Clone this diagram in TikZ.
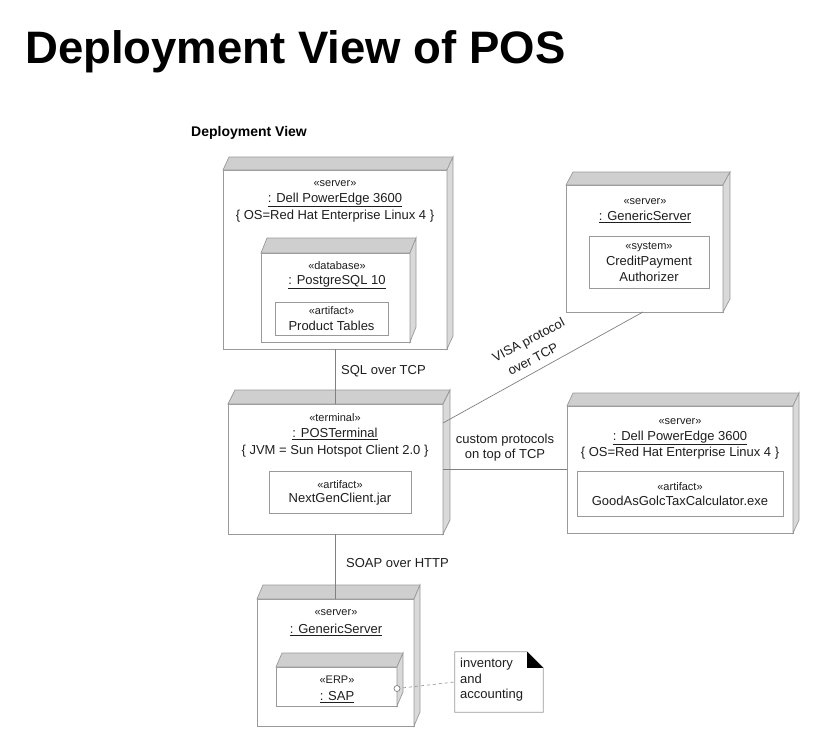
\documentclass[tikz,border=0pt]{standalone}
\usepackage{fontspec}
\setmainfont{Liberation Sans}
\usetikzlibrary{calc}
\definecolor{edge}{HTML}{9A9A9A}
\definecolor{topgray}{HTML}{CFCFCF}
\definecolor{sidegray}{HTML}{D9D9D9}
\definecolor{ink}{HTML}{1E1E1E}
\definecolor{wirec}{HTML}{808080}
\newcommand\boxdepth[3]{%
  \filldraw[topgray, draw=edge, line width=0.7] (#1.north west) -- ($(#1.north west)+(#2,#3)$) -- ($(#1.north east)+(#2,#3)$) -- (#1.north east) -- cycle;
  \filldraw[sidegray, draw=edge, line width=0.7] (#1.north east) -- ($(#1.north east)+(#2,#3)$) -- ($(#1.south east)+(#2,#3)$) -- (#1.south east) -- cycle;}
\begin{document}
\begin{tikzpicture}[x=1pt, y=-1pt, font=\fontsize{13}{15}\selectfont, text=ink,
  face/.style={draw=edge, fill=white, line width=0.7, inner sep=0, outer sep=0},
  art/.style={draw=edge, fill=white, line width=0.7, inner sep=0, outer sep=0},
  st/.style={font=\fontsize{11}{13}\selectfont, inner sep=0},
  lbl/.style={inner sep=0},
  wire/.style={draw=wirec, line width=0.7}]
\useasboundingbox (0,0) rectangle (831,737);
\fill[white] (0,0) rectangle (831,737);

% titles
\node[anchor=base west, inner sep=0, font=\bfseries\fontsize{45.5}{50}\selectfont, text=black] (title) at (25,63) {Deployment View of POS};
\node[anchor=west, inner sep=0, font=\bfseries\fontsize{14}{16}\selectfont, text=black] (sub) at (191,133) {Deployment View};

% Dell server 1
\node[face, minimum width=224, minimum height=179] (dell1) at (335,259.5) {};
\boxdepth{dell1}{6}{-13}
\node[st] (d1a) at (335,184) {«server»};
\node[lbl] (d1b) at (335,200) {\underline{: Dell PowerEdge 3600}};
\node[lbl] (d1c) at (335,216) {\{ OS=Red Hat Enterprise Linux 4 \}};
\node[face, minimum width=149, minimum height=89] (db) at (335.5,297.5) {};
\boxdepth{db}{6}{-15}
\node[st] (dba) at (337,266) {«database»};
\node[lbl] (dbb) at (337,282) {\underline{: PostgreSQL 10}};
\node[art, minimum width=113, minimum height=33] (pt) at (331.5,318.5) {};
\node[st] (pta) at (331.5,311) {«artifact»};
\node[lbl] (ptb) at (331.5,326) {Product Tables};

% Generic server (credit)
\node[face, minimum width=157, minimum height=127] (gs1) at (644.5,248.5) {};
\boxdepth{gs1}{7}{-13}
\node[st] (g1a) at (645,202) {«server»};
\node[lbl] (g1b) at (645,217) {\underline{: GenericServer}};
\node[art, minimum width=120, minimum height=52] (sys) at (649,262) {};
\node[st] (sya) at (649,247) {«system»};
\node[lbl] (syb) at (649,262) {CreditPayment};
\node[lbl] (syc) at (649,277) {Authorizer};

% Terminal
\node[face, minimum width=215, minimum height=130] (term) at (335.5,469) {};
\boxdepth{term}{7}{-14}
\node[st] (ta) at (335,418) {«terminal»};
\node[lbl] (tb) at (335,434) {\underline{: POSTerminal}};
\node[lbl] (tc) at (335,451) {\{ JVM = Sun Hotspot Client 2.0 \}};
\node[art, minimum width=142, minimum height=42] (ngc) at (340,492) {};
\node[st] (nga) at (340,485) {«artifact»};
\node[lbl] (ngb) at (340,499) {NextGenClient.jar};

% Dell server 2
\node[face, minimum width=226, minimum height=127] (dell2) at (680,469.5) {};
\boxdepth{dell2}{6}{-13}
\node[st] (d2a) at (680,422) {«server»};
\node[lbl] (d2b) at (680,438) {\underline{: Dell PowerEdge 3600}};
\node[lbl] (d2c) at (680,453) {\{ OS=Red Hat Enterprise Linux 4 \}};
\node[art, minimum width=206, minimum height=45] (tax) at (680,493.5) {};
\node[st] (txa) at (680,487) {«artifact»};
\node[lbl] (txb) at (680,501) {GoodAsGolcTaxCalculator.exe};

% Bottom generic server
\node[face, minimum width=157, minimum height=127] (gs2) at (335.5,662.5) {};
\boxdepth{gs2}{6}{-14}
\node[st] (g2a) at (336,613) {«server»};
\node[lbl] (g2b) at (336,630) {\underline{: GenericServer}};
\node[face, minimum width=121, minimum height=39] (sap) at (336.5,686.5) {};
\boxdepth{sap}{6}{-14}
\node[st] (spa) at (337,680) {«ERP»};
\node[lbl] (spb) at (337,697) {\underline{: SAP}};

% note
\node[inner sep=0, minimum width=88, minimum height=60] (note) at (499,682) {};
\draw[edge, line width=0.7, fill=white] (note.north west) -- ($(note.north east)+(-16,0)$) -- ($(note.north east)+(0,16)$) -- (note.south east) -- (note.south west) -- cycle;
\fill[black] ($(note.north east)+(-16,0)$) -- ($(note.north east)+(-16,16)$) -- ($(note.north east)+(0,16)$) -- cycle;
\node[lbl, anchor=north west, align=left, font=\fontsize{13}{15.5}\selectfont] (notetext) at (460,658) {inventory\\and\\accounting};

% connectors
\draw[wire] (dell1.south) -- (dell1.south |- term.north);
\node[lbl, anchor=west] (sql) at (341,371) {SQL over TCP};
\draw[wire] (term.south) -- (term.south |- gs2.north);
\node[lbl, anchor=west] (soap) at (346,563) {SOAP over HTTP};
\draw[wire] (term.east) -- (term.east -| dell2.west);
\node[lbl, align=center] (cust) at (505,448) {custom protocols\\on top of TCP};
\coordinate (visaA) at ($(term.north east)!0.146!(term.south east)$);
\coordinate (visaB) at ($(gs1.south west)!0.49!(gs1.south east)$);
\draw[wire] (visaA) -- (visaB);
\node[lbl, rotate=28] (visa1) at (529,341) {VISA protocol};
\node[lbl, rotate=28] (visa2) at (533,359) {over TCP};
\coordinate (lol) at ($(sap.east)+(0,2)$);
\draw[wire, dashed, draw=edge] (lol) -- (note.west);
\draw[wire, fill=white] (lol) circle (3);
\end{tikzpicture}
\end{document}
